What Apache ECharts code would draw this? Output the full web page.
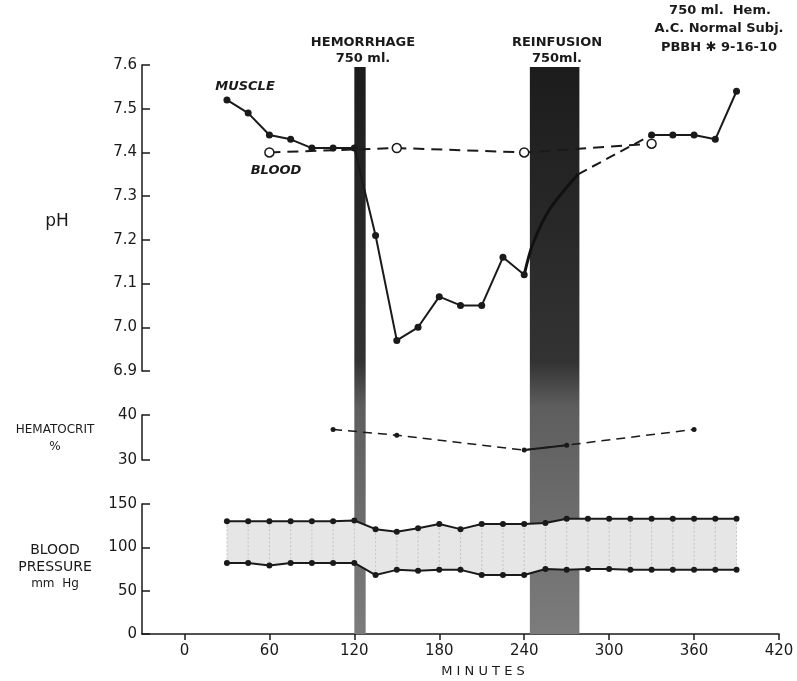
<!DOCTYPE html>
<html>
<head>
<meta charset="utf-8">
<script src="https://cdn.jsdelivr.net/npm/echarts@6/dist/echarts.min.js"></script>
<style>
  html, body { margin: 0; padding: 0; background: #fff; }
  #chart { width: 797px; height: 681px; }
</style>
</head>
<body>
<div id="chart"></div>
<script>
// minutes after start of experiment
var muscleMin = [30, 45, 60, 75, 90, 105, 120, 135, 150, 165, 180, 195, 210, 225, 240];
var musclePh = [7.52, 7.49, 7.44, 7.43, 7.41, 7.41, 7.41, 7.21, 6.97, 7.00, 7.07, 7.05, 7.05, 7.16, 7.12];
// trace drawn through the reinfusion period (no dots)
var muscleBandMin = [240, 246, 258, 278];
var muscleBandPh = [7.12, 7.19, 7.27, 7.35];
var muscleLateMin = [330, 345, 360, 375, 390];
var muscleLatePh = [7.44, 7.44, 7.44, 7.43, 7.54];

var bloodMin = [60, 150, 240, 330];
var bloodPh = [7.40, 7.41, 7.40, 7.42];

var hctMin = [105, 150, 240, 270, 360];
var hct = [36.8, 35.5, 32.2, 33.3, 36.8];

var bpMin = [30, 45, 60, 75, 90, 105, 120, 135, 150, 165, 180, 195, 210, 225, 240, 255, 270, 285, 300, 315, 330, 345, 360, 375, 390];
var systolic = [130, 130, 130, 130, 130, 130, 131, 121, 118, 122, 127, 121, 127, 127, 127, 128, 133, 133, 133, 133, 133, 133, 133, 133, 133];
var diastolic = [82, 82, 79, 82, 82, 82, 82, 68, 74, 73, 74, 74, 68, 68, 68, 75, 74, 75, 75, 74, 74, 74, 74, 74, 74];

var hemorrhage = [120, 128];
var reinfusion = [244, 279];

var xTicks = [0, 60, 120, 180, 240, 300, 360, 420];

var FONT = "DejaVu Sans";
var INK = "#1a1a1a";

function pairs(xs, ys) {
    return xs.map(function (x, i) { return [x, ys[i]]; });
}

function xAxisFor(gridIndex, visible) {
    return {
        type: "value", gridIndex: gridIndex, min: -30, max: 420,
        show: visible,
        axisLine: { show: visible, onZero: false, lineStyle: { color: INK, width: 1.5 } },
        axisTick: { show: visible, customValues: xTicks, length: 6, lineStyle: { color: INK, width: 1.5 } },
        axisLabel: { show: visible, customValues: xTicks, margin: 10, color: INK, fontFamily: FONT, fontSize: 15 },
        splitLine: { show: false }
    };
}

function yAxisFor(gridIndex, min, max, interval, digits) {
    return {
        type: "value", gridIndex: gridIndex, min: min, max: max, interval: interval,
        axisLine: { show: true, onZero: false, lineStyle: { color: INK, width: 1.5 } },
        axisTick: { show: true, inside: true, length: 8, lineStyle: { color: INK, width: 1.5 } },
        axisLabel: {
            margin: 5, color: INK, fontFamily: FONT, fontSize: 15,
            formatter: function (v) { return v.toFixed(digits); }
        },
        splitLine: { show: false }
    };
}

function label(text, x, y, size, extra) {
    var style = {
        text: text, x: x, y: y, fill: INK,
        font: (extra || "") + " " + size + "px '" + FONT + "'",
        textAlign: "center", textVerticalAlign: "middle"
    };
    return { type: "text", style: style, z: 50 };
}

var bandColor = {
    type: "linear", x: 0, y: 0, x2: 0, y2: 1,
    colorStops: [
        { offset: 0, color: "#1c1c1c" },
        { offset: 0.52, color: "#333" },
        { offset: 0.6, color: "#5e5e5e" },
        { offset: 1, color: "#7c7c7c" }
    ]
};

// pressure band: shaded between systolic and diastolic with faint verticals
function renderPressure(params, api) {
    var top = bpMin.map(function (m, i) { return api.coord([m, systolic[i]]); });
    var bottom = bpMin.map(function (m, i) { return api.coord([m, diastolic[i]]); }).reverse();
    var children = [{
        type: "polygon",
        shape: { points: top.concat(bottom) },
        style: { fill: "#e6e6e6" }
    }];
    bpMin.forEach(function (m, i) {
        var a = api.coord([m, systolic[i]]);
        var b = api.coord([m, diastolic[i]]);
        children.push({
            type: "line",
            shape: { x1: a[0], y1: a[1], x2: b[0], y2: b[1] },
            style: { stroke: "#c4c4c4", lineWidth: 1, lineDash: [2, 2] }
        });
    });
    return { type: "group", children: children };
}

var chart = echarts.init(document.getElementById("chart"), null, { renderer: "canvas" });

var option = {
    backgroundColor: "#fff",
    animation: false,
    grid: [
        { left: 142, right: 18, top: 65, height: 306 },
        { left: 142, right: 18, top: 415, height: 45 },
        { left: 142, right: 18, top: 504, height: 130 },
        { left: 142, right: 18, top: 67, height: 567 }
    ],
    xAxis: [xAxisFor(0, false), xAxisFor(1, false), xAxisFor(2, true), xAxisFor(3, false)],
    yAxis: [
        yAxisFor(0, 6.9, 7.6, 0.1, 1),
        yAxisFor(1, 30, 40, 10, 0),
        yAxisFor(2, 0, 150, 50, 0),
        { type: "value", gridIndex: 3, min: 0, max: 1, show: false }
    ],
    graphic: [
        label("HEMORRHAGE", 363, 43, 13, "bold"),
        label("750 ml.", 363, 59, 13, "bold"),
        label("REINFUSION", 557, 43, 13, "bold"),
        label("750ml.", 557, 59, 13, "bold"),
        label("750 ml.  Hem.", 720, 11, 13, "bold"),
        label("A.C. Normal Subj.", 719, 29, 13, "bold"),
        label("PBBH \u2731 9-16-10", 719, 48, 13, "bold"),
        label("MUSCLE", 245, 87, 13, "italic bold"),
        label("BLOOD", 276, 171, 13, "italic bold"),
        label("pH", 57, 222, 17, ""),
        label("HEMATOCRIT", 55, 430, 12, ""),
        label("%", 55, 447, 12, ""),
        label("BLOOD", 55, 550, 14, ""),
        label("PRESSURE", 55, 567, 14, ""),
        label("mm  Hg", 55, 584, 12, ""),
        label("M I N U T E S", 483, 672, 13, "")
    ],
    series: [
        {
            name: "bands", type: "line", xAxisIndex: 3, yAxisIndex: 3, data: [], z: 1,
            markArea: {
                silent: true,
                itemStyle: { color: bandColor },
                data: [
                    [{ xAxis: hemorrhage[0] }, { xAxis: hemorrhage[1] }],
                    [{ xAxis: reinfusion[0] }, { xAxis: reinfusion[1] }]
                ]
            }
        },
        {
            name: "pressure range", type: "custom", xAxisIndex: 2, yAxisIndex: 2, z: 3,
            data: [[bpMin[0], systolic[0]]],
            clip: false, silent: true,
            renderItem: renderPressure
        },
        {
            name: "muscle", type: "line", xAxisIndex: 0, yAxisIndex: 0, z: 5,
            data: pairs(muscleMin, musclePh),
            symbol: "circle", symbolSize: 7,
            itemStyle: { color: INK },
            lineStyle: { color: INK, width: 2 }
        },
        {
            name: "muscle reinfusion", type: "line", xAxisIndex: 0, yAxisIndex: 0, z: 5,
            data: pairs(muscleBandMin, muscleBandPh),
            smooth: 0.3, symbol: "none",
            lineStyle: { color: "#111", width: 3 }
        },
        {
            name: "muscle link", type: "line", xAxisIndex: 0, yAxisIndex: 0, z: 5,
            data: [[muscleBandMin[muscleBandMin.length - 1], muscleBandPh[muscleBandPh.length - 1]], [muscleLateMin[0], muscleLatePh[0]]],
            symbol: "none",
            lineStyle: { color: INK, width: 2, type: [10, 6] }
        },
        {
            name: "muscle late", type: "line", xAxisIndex: 0, yAxisIndex: 0, z: 5,
            data: pairs(muscleLateMin, muscleLatePh),
            symbol: "circle", symbolSize: 7,
            itemStyle: { color: INK },
            lineStyle: { color: INK, width: 2 }
        },
        {
            name: "blood", type: "line", xAxisIndex: 0, yAxisIndex: 0, z: 6,
            data: pairs(bloodMin, bloodPh),
            symbol: "circle", symbolSize: 9,
            itemStyle: { color: "#fff", borderColor: INK, borderWidth: 1.5 },
            lineStyle: { color: INK, width: 2, type: [11, 7] }
        },
        {
            name: "hematocrit", type: "line", xAxisIndex: 1, yAxisIndex: 1, z: 5,
            data: pairs(hctMin, hct),
            symbol: "circle", symbolSize: 5,
            itemStyle: { color: INK },
            lineStyle: { color: INK, width: 1.5, type: [9, 6] }
        },
        {
            name: "hematocrit reinfusion", type: "line", xAxisIndex: 1, yAxisIndex: 1, z: 6,
            data: pairs(hctMin.slice(2, 4), hct.slice(2, 4)),
            symbol: "none",
            lineStyle: { color: INK, width: 2 }
        },
        {
            name: "diastolic", type: "line", xAxisIndex: 2, yAxisIndex: 2, z: 5,
            data: pairs(bpMin, diastolic),
            symbol: "circle", symbolSize: 6,
            itemStyle: { color: INK },
            lineStyle: { color: INK, width: 2 }
        },
        {
            name: "systolic", type: "line", xAxisIndex: 2, yAxisIndex: 2, z: 5,
            data: pairs(bpMin, systolic),
            symbol: "circle", symbolSize: 6,
            itemStyle: { color: INK },
            lineStyle: { color: INK, width: 2 }
        }
    ]
};

chart.setOption(option);
</script>
</body>
</html>
